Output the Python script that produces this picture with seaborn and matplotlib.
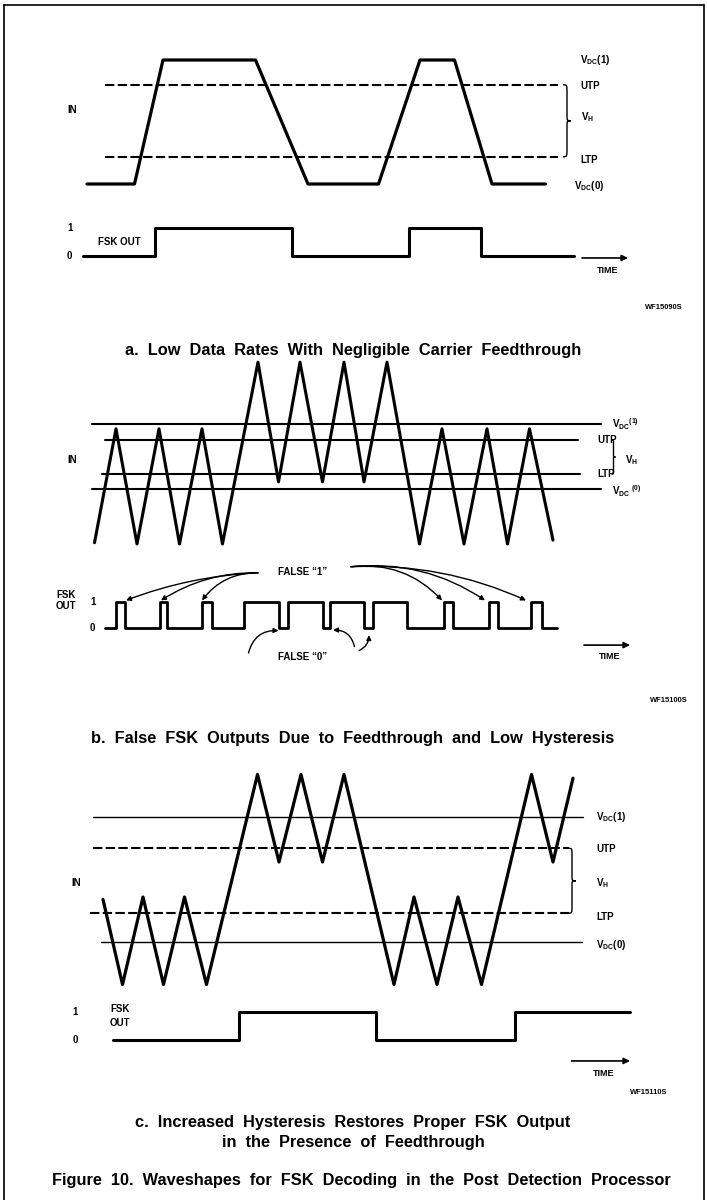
import matplotlib
matplotlib.use("Agg")
import matplotlib.pyplot as plt
import seaborn as sns
from matplotlib.path import Path
import matplotlib.patches as mpatches
from matplotlib.lines import Line2D

# Thời gian dùng chung cho cả 3 hình (đơn vị tùy ý)
# --- a. Low data rates ---
a_in_t = [1.4, 10.9, 16.6, 35.1, 45.6, 59.7, 68.0, 74.9, 82.4, 93.1]
a_in_v = [0, 0, 1, 1, 0, 0, 1, 1, 0, 0]
a_out_t = [0.6, 14.9, 42.3, 65.8, 80.1, 98.8]
a_out_s = [0, 1, 0, 1, 0, 0]
a_utp, a_ltp = 0.80, 0.22
a_thr_t = [4.9, 95.6]

# --- b. False outputs ---
b_in_t = [2.9, 7.2, 11.4, 15.8, 19.9, 24.4, 28.5, 35.6, 39.7, 44.0, 48.5,
          52.8, 56.8, 61.4, 67.9, 72.4, 76.8, 81.4, 85.5, 89.9, 94.6]
b_in_v = [-0.83, 0.93, -0.85, 0.93, -0.85, 0.93, -0.85, 1.96, 0.11, 1.96, 0.11,
          1.96, 0.11, 1.96, -0.85, 0.93, -0.85, 0.93, -0.85, 0.93, -0.79]
b_out_t = [4.9, 7.1, 8.9, 16.0, 17.4, 24.4, 26.4, 32.8, 39.7, 41.5, 48.5,
           50.0, 56.8, 58.6, 65.4, 72.8, 74.6, 81.7, 83.5, 90.1, 92.3, 95.4]
b_out_s = [0, 1, 0, 1, 0, 1, 0, 1, 0, 1, 0, 1, 0, 1, 0, 1, 0, 1, 0, 1, 0, 0]
b_utp, b_ltp = 0.76, 0.23
b_vdc_t = [2.4, 104.2]
b_utp_t = [4.9, 99.6]
b_ltp_t = [4.4, 100.0]
false1_targets = [9.2, 16.2, 24.4, 72.4, 81.0, 89.2]

# --- c. Increased hysteresis ---
c_in_t = [4.6, 8.5, 12.6, 16.7, 20.9, 25.3, 35.5, 39.8, 44.2, 48.5, 52.8,
          62.8, 66.8, 71.4, 75.6, 80.3, 90.3, 94.6, 98.6]
c_in_v = [0.34, -0.34, 0.36, -0.34, 0.36, -0.34, 1.34, 0.64, 1.34, 0.64, 1.34,
          -0.34, 0.36, -0.34, 0.36, -0.34, 1.34, 0.64, 1.31]
c_out_t = [6.6, 31.7, 59.2, 87.0, 110.0]
c_out_s = [0, 1, 0, 1, 1]
c_utp, c_ltp = 0.75, 0.23
c_vdc_t = [2.6, 100.6]
c_thr_t = [2.6, 97.8]

captions = [
    "a.  Low  Data  Rates  With  Negligible  Carrier  Feedthrough",
    "b.  False  FSK  Outputs  Due  to  Feedthrough  and  Low  Hysteresis",
    "c.  Increased  Hysteresis  Restores  Proper  FSK  Output",
    "in  the  Presence  of  Feedthrough",
]
fig_title = "Figure  10.  Waveshapes  for  FSK  Decoding  in  the  Post  Detection  Processor"
codes = ["WF15090S", "WF15100S", "WF15110S"]

# ---- style ----
sns.set_theme(style="white")
plt.rcParams["font.family"] = ["Liberation Sans", "DejaVu Sans"]
plt.rcParams["text.color"] = "black"
plt.rcParams["mathtext.fontset"] = "custom"
plt.rcParams["mathtext.rm"] = "Liberation Sans:bold"
plt.rcParams["mathtext.it"] = "Liberation Sans:bold"
plt.rcParams["mathtext.bf"] = "Liberation Sans:bold"

W, H = 707, 1200
fig = plt.figure(figsize=(W / 100, H / 100), dpi=100)
fig.patch.set_facecolor("white")

T_LEFT, PX_T = 80, 5.0


def panel_axes(top, bottom, zero_px, ppu):
    ax = fig.add_axes([T_LEFT / W, 1 - bottom / H, 110 * PX_T / W, (bottom - top) / H])
    ax.set_xlim(0, 110)
    ax.set_ylim((zero_px - bottom) / ppu, (zero_px - top) / ppu)
    ax.axis("off")
    return ax


def trace(ax, t, v, lw=2.2, **kw):
    sns.lineplot(x=t, y=v, ax=ax, color="black", lw=lw, sort=False,
                 estimator=None, legend=False, clip_on=False, **kw)


def hline(ax, t, lvl, lw=1.5, dashed=False):
    ls = (0, (4.5, 1.6)) if dashed else "-"
    trace(ax, t, [lvl, lvl], lw=lw, linestyle=ls)


def brace(ax, x, lo, hi, w, lw=1.0):
    m = (lo + hi) / 2
    h = hi - lo
    xm = x + w / 2
    verts = [(x, hi), (xm, hi), (xm, hi), (xm, hi - 0.12 * h),
             (xm, m + 0.08 * h),
             (xm, m), (xm, m), (x + w, m),
             (xm, m), (xm, m), (xm, m - 0.08 * h),
             (xm, lo + 0.12 * h),
             (xm, lo), (xm, lo), (x, lo)]
    cds = [Path.MOVETO, Path.CURVE4, Path.CURVE4, Path.CURVE4, Path.LINETO,
           Path.CURVE4, Path.CURVE4, Path.CURVE4, Path.CURVE4, Path.CURVE4,
           Path.CURVE4, Path.LINETO, Path.CURVE4, Path.CURVE4, Path.CURVE4]
    ax.add_patch(mpatches.PathPatch(Path(verts, cds), fill=False, lw=lw,
                                    color="black", clip_on=False))


def label(ax, x, y, s, size=7, ha="left", **kw):
    ax.text(x, y, s, fontsize=size, fontweight="bold", ha=ha, va="center",
            color="black", **kw)


def time_arrow(ax, t0, t1, lvl):
    ax.annotate("", xy=(t1, lvl), xytext=(t0, lvl), annotation_clip=False,
                arrowprops=dict(arrowstyle="-|>", lw=1.2, color="black",
                                mutation_scale=9, shrinkA=0, shrinkB=0))
    label(ax, (t0 + t1) / 2 + 0.5, lvl - 0.45, "TIME", size=6.5, ha="center")


vdc1 = r"$\mathrm{V_{DC}(1)}$"
vdc0 = r"$\mathrm{V_{DC}(0)}$"
vh = r"$\mathrm{V_H}$"

# ===== a =====
ax = panel_axes(40, 200, 184, 124)
trace(ax, a_in_t, a_in_v, lw=2.3)
hline(ax, a_thr_t, a_utp, dashed=True)
hline(ax, a_thr_t, a_ltp, dashed=True)
brace(ax, 96.6, a_ltp, a_utp, 1.6)
label(ax, 100, 1.0, vdc1)
label(ax, 100, a_utp - 0.01, "UTP")
label(ax, 100.2, (a_utp + a_ltp) / 2 + 0.03, vh)
label(ax, 100, a_ltp - 0.03, "LTP")
label(ax, 98.8, -0.02, vdc0)
label(ax, -2.6, 0.6, "IN")

ax = panel_axes(212, 282, 256, 28)
trace(ax, a_out_t, a_out_s, lw=2.2, drawstyle="steps-post")
label(ax, -2.6, 1, "1")
label(ax, -2.6, 0, "0")
label(ax, 3.5, 0.5, "FSK OUT")
time_arrow(ax, 100.4, 109.6, -0.07)

# ===== b =====
ax = panel_axes(350, 556, 489, 64.7)
trace(ax, b_in_t, b_in_v, lw=2.2)
hline(ax, b_vdc_t, 1.0)
hline(ax, b_utp_t, b_utp)
hline(ax, b_ltp_t, b_ltp)
hline(ax, b_vdc_t, 0.0)
brace(ax, 106.3, b_ltp, b_utp, 0.8)
label(ax, 106.4, 1.0, r"$\mathrm{V_{DC}}$$^{\mathrm{(1)}}$")
label(ax, 103.4, b_utp, "UTP")
label(ax, 109.0, (b_utp + b_ltp) / 2 - 0.05, vh)
label(ax, 103.4, b_ltp, "LTP")
label(ax, 106.4, -0.03, r"$\mathrm{V_{DC}}$ $^{\mathrm{(0)}}$")
label(ax, -2.6, 0.45, "IN")

ax = panel_axes(558, 668, 628, 26.3)
trace(ax, b_out_t, b_out_s, lw=2.0, drawstyle="steps-post")
label(ax, 2.0, 1, "1")
label(ax, 2.0, 0, "0")
label(ax, -0.8, 1.05, "FSK\nOUT", ha="right", linespacing=1.1)
label(ax, 44.6, 2.13, "FALSE \u201c1\u201d", ha="center")
label(ax, 44.6, -1.1, "FALSE \u201c0\u201d", ha="center")
for i, tt in enumerate(false1_targets):
    if i < 3:
        src, rad = (35.6, 2.1), [0.08, 0.15, 0.25][i]
    else:
        src, rad = (54.2, 2.33), [-0.25, -0.18, -0.12][i - 3]
    ax.annotate("", xy=(tt, 1.05), xytext=src, annotation_clip=False,
                arrowprops=dict(arrowstyle="-|>", lw=1.0, color="black",
                                mutation_scale=7, shrinkA=0, shrinkB=0,
                                connectionstyle=f"arc3,rad={rad}"))
for src, dst, rad in [((33.7, -0.95), (39.7, -0.1), -0.4),
                      ((54.9, -0.71), (50.6, -0.08), 0.4),
                      ((55.8, -0.86), (57.8, -0.27), 0.3)]:
    ax.annotate("", xy=dst, xytext=src, annotation_clip=False,
                arrowprops=dict(arrowstyle="-|>", lw=1.0, color="black",
                                mutation_scale=7, shrinkA=0, shrinkB=0,
                                connectionstyle=f"arc3,rad={rad}"))
time_arrow(ax, 100.8, 110, -0.65)

# ===== c =====
ax = panel_axes(760, 996, 942, 125)
trace(ax, c_in_t, c_in_v, lw=2.3)
hline(ax, c_vdc_t, 1.0, lw=1.0)
hline(ax, c_thr_t, c_utp, dashed=True)
hline(ax, [2.0, 97.8], c_ltp, dashed=True)
hline(ax, [4.2, 100.4], 0.0, lw=1.0)
brace(ax, 97.6, c_ltp, c_utp, 1.6)
label(ax, 103.2, 1.0, vdc1)
label(ax, 103.2, c_utp - 0.01, "UTP")
label(ax, 103.2, (c_utp + c_ltp) / 2 - 0.02, vh)
label(ax, 103.2, c_ltp - 0.03, "LTP")
label(ax, 103.2, -0.02, vdc0)
label(ax, -1.8, 0.47, "IN")

ax = panel_axes(1000, 1082, 1040, 28.3)
trace(ax, c_out_t, c_out_s, lw=2.2, drawstyle="steps-post")
label(ax, -1.5, 1, "1")
label(ax, -1.5, 0, "0")
label(ax, 6.0, 1.1, "FSK")
label(ax, 6.0, 0.6, "OUT")
time_arrow(ax, 98.3, 110, -0.74)

# ===== chữ chú thích =====
def ftext(x, y, s, size, ha="center", weight="bold"):
    fig.text(x / W, 1 - y / H, s, fontsize=size, ha=ha, va="center",
             fontweight=weight, color="black")


ftext(353, 350, captions[0], 11.8)
ftext(353, 738, captions[1], 11.8)
ftext(353, 1122, captions[2], 11.8)
ftext(353, 1143, captions[3], 11.8)
ftext(361, 1180, fig_title, 11.8)
ftext(683, 308, codes[0], 5.4, ha="right")
ftext(688, 701, codes[1], 5.4, ha="right")
ftext(667, 1093, codes[2], 5.4, ha="right")

# khung viền
for xs, ys in [([4, 4], [5, 1200]), ([4, 704], [5, 5]), ([704, 704], [5, 1200])]:
    fig.add_artist(Line2D([x / W for x in xs], [1 - y / H for y in ys],
                          color="black", lw=1.2))

fig.savefig("out.png", dpi=100, facecolor="white")
